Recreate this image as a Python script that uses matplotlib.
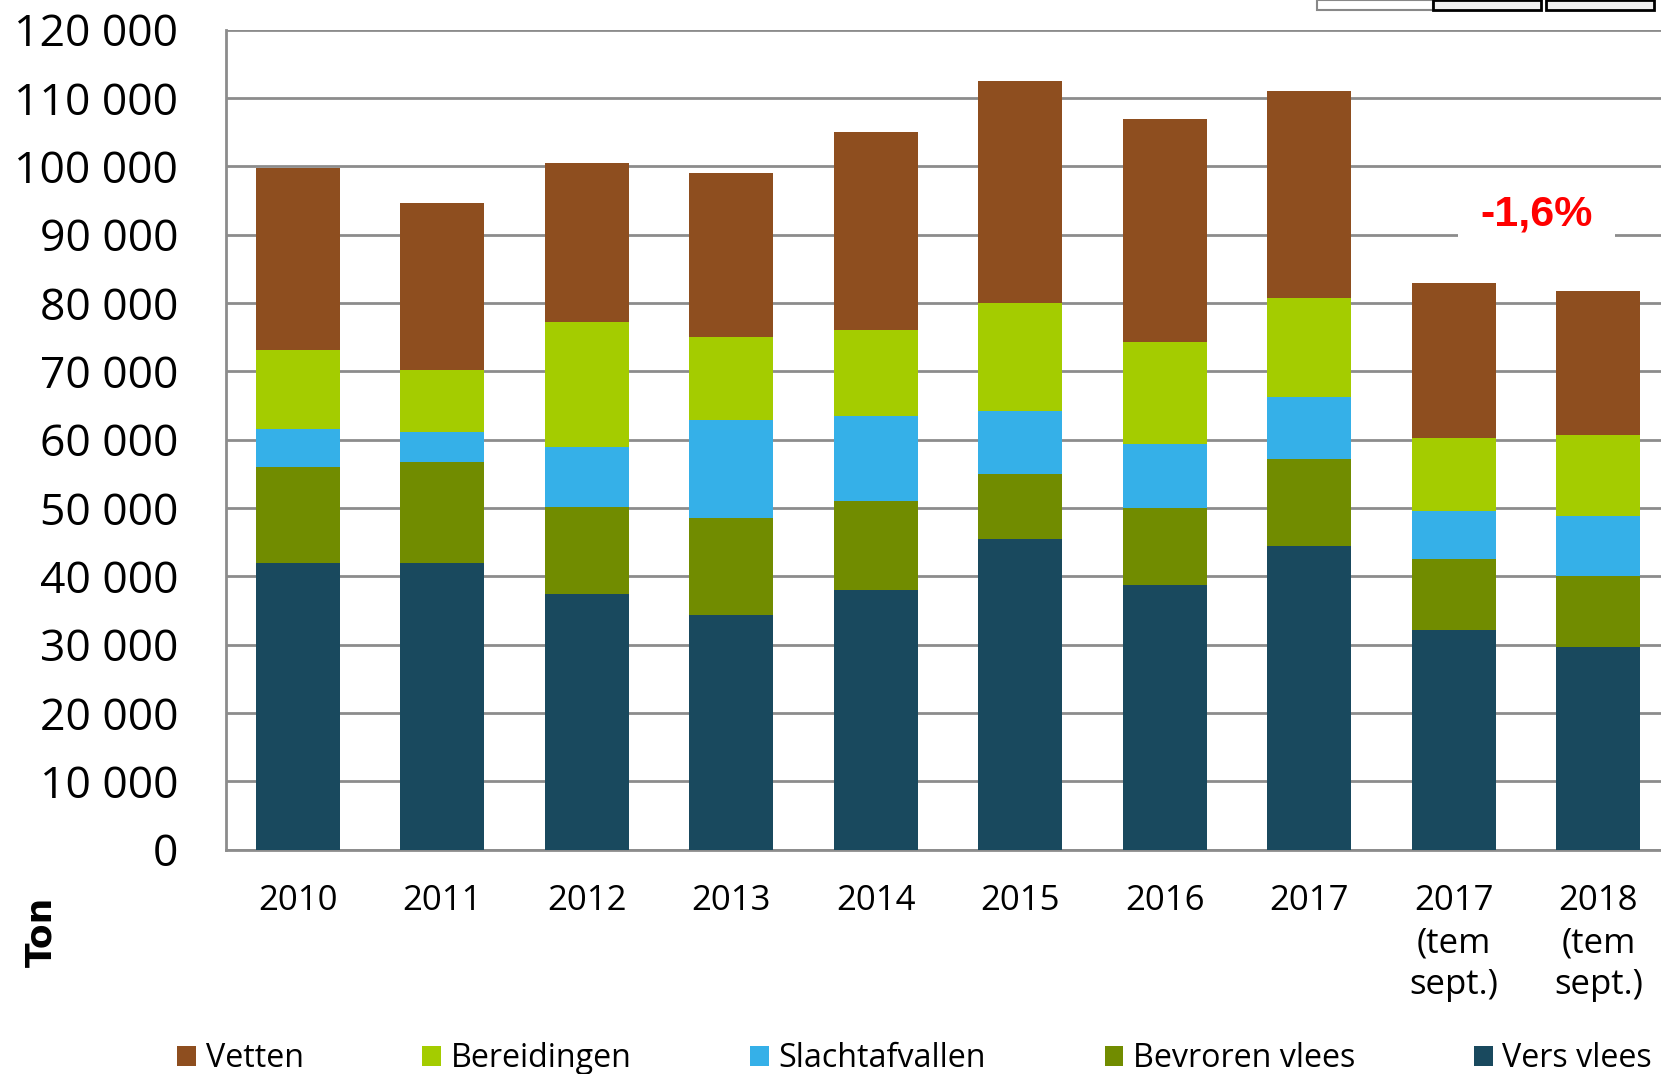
"""Stacked bar chart: export of pork by product type (ton)."""

import matplotlib

matplotlib.use("Agg")
import matplotlib.pyplot as plt
import numpy as np
from matplotlib.patches import Rectangle
from matplotlib.ticker import FuncFormatter

plt.rcParams["font.family"] = ["Open Sans", "DejaVu Sans"]

# Data (ton)
categories = [
    "2010", "2011", "2012", "2013", "2014", "2015", "2016", "2017",
    "2017\n(tem\nsept.)", "2018\n(tem\nsept.)",
]
vers_vlees = [41900, 41900, 37400, 34300, 38000, 45400, 38800, 44500, 32100, 29600]
bevroren_vlees = [14100, 14800, 12800, 14200, 13000, 9600, 11200, 12700, 10500, 10500]
slachtafvallen = [5500, 4400, 8800, 14400, 12400, 9200, 9400, 9000, 6900, 8700]
bereidingen = [11600, 9100, 18200, 12100, 12700, 15800, 14900, 14600, 10700, 11900]
vetten = [26600, 24500, 23300, 24000, 29000, 32500, 32700, 30200, 22800, 21000]

series = [
    ("Vers vlees", vers_vlees, "#19495e"),
    ("Bevroren vlees", bevroren_vlees, "#718c00"),
    ("Slachtafvallen", slachtafvallen, "#35b0e8"),
    ("Bereidingen", bereidingen, "#a4cc00"),
    ("Vetten", vetten, "#8e4e1f"),
]
change_label = "-1,6%"

fig = plt.figure(figsize=(16.61, 10.74), dpi=100)
ax = fig.add_axes([0.1358, 0.2089, 0.870, 0.7634])

x = np.arange(len(categories))
bottom = np.zeros(len(categories))
handles = {}
for name, values, color in series:
    bars = ax.bar(x, values, width=0.58, bottom=bottom, color=color, zorder=3)
    handles[name] = bars
    bottom += np.array(values)

ax.set_xlim(-0.5, len(categories) - 0.5)
ax.set_ylim(0, 120000)
ax.set_yticks(np.arange(0, 120001, 10000))
ax.yaxis.set_major_formatter(
    FuncFormatter(lambda v, _: f"{int(v):,}".replace(",", " "))
)
ax.set_xticks(x)
ax.set_xticklabels(categories, fontsize=25, linespacing=1.3, va="top")
ax.tick_params(axis="y", length=0, pad=34, labelsize=32)
ax.tick_params(axis="x", length=0, pad=25)

ax.grid(axis="y", color="#8c8c8c", linewidth=2, zorder=0)
for side in ("top", "right"):
    ax.spines[side].set_visible(False)
for side in ("left", "bottom"):
    ax.spines[side].set_color("#8c8c8c")
    ax.spines[side].set_linewidth(2)

# Change label between the two partial-year bars
ax.text(
    8.57, 93000, change_label, color="#ff0000", fontsize=31, fontweight="bold",
    family=["Liberation Sans", "DejaVu Sans"], ha="center", va="center",
    bbox=dict(facecolor="white", edgecolor="none", pad=16), zorder=4,
)

fig.text(0.025, 0.132, "Ton", rotation=90, fontsize=26, fontweight="bold",
         family=["DejaVu Sans"], ha="center", va="center")

order = ["Vetten", "Bereidingen", "Slachtafvallen", "Bevroren vlees", "Vers vlees"]
fig.legend(
    [handles[n] for n in order], order, loc="center left",
    bbox_to_anchor=(0.099, 0.014), ncol=5, frameon=False, fontsize=23.2,
    handlelength=0.58, handleheight=0.58, handletextpad=0.3, columnspacing=3.68,
    borderaxespad=0,
)

# Fragment of a table cut off at the top right
fig.patches.append(Rectangle((1317 / 1661, 1 - 10 / 1074), 116 / 1661, 10 / 1074,
                             transform=fig.transFigure, facecolor="white",
                             edgecolor="#888888", linewidth=1.5))
for x0 in (1433, 1546):
    fig.patches.append(Rectangle((x0 / 1661, 1 - 10 / 1074), 108 / 1661, 10 / 1074,
                                 transform=fig.transFigure, facecolor="#f0f0f0",
                                 edgecolor="black", linewidth=2))

fig.savefig("out.png", dpi=100)
